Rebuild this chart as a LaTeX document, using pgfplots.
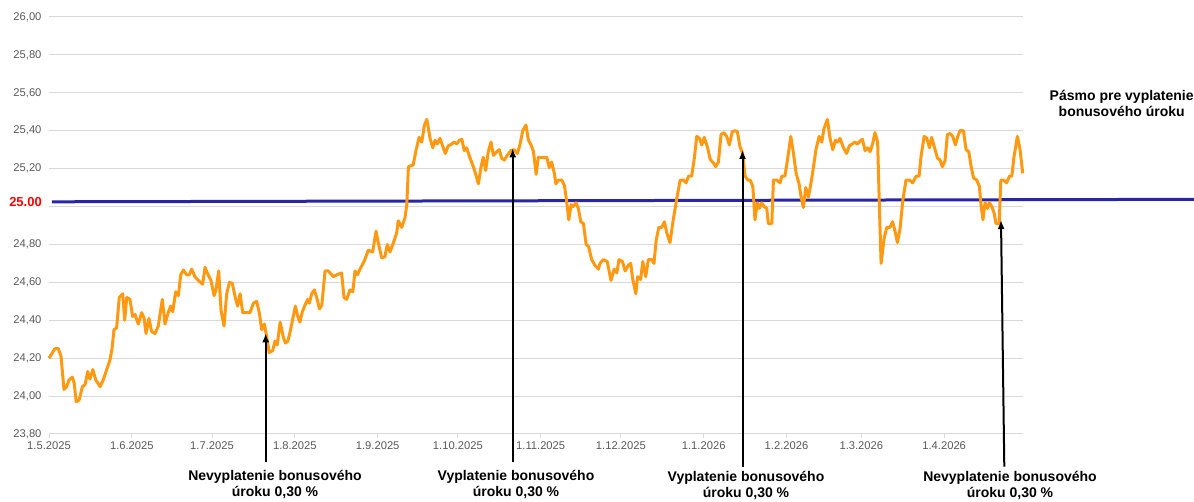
\documentclass[border=0pt]{standalone}
\usepackage{pgfplots}
\pgfplotsset{compat=1.18}
\usepackage{fontspec}
\setmainfont{Liberation Sans}
\usetikzlibrary{arrows.meta}
\definecolor{lineorange}{RGB}{255,153,17}
\definecolor{lineblue}{RGB}{38,38,166}
\definecolor{gridgray}{RGB}{217,217,217}
\definecolor{labelgray}{RGB}{89,89,89}
\begin{document}
\begin{tikzpicture}[x=1pt,y=1pt]
\path[use as bounding box] (0,0) rectangle (1194,502);
\begin{axis}[
  at={(49pt,68pt)}, anchor=south west,
  scale only axis, width=974pt, height=417pt,
  xmin=0, xmax=364.5, ymin=23.8, ymax=26,
  ytick={23.8,24.0,24.2,24.4,24.6,24.8,25.0,25.2,25.4,25.6,25.8,26.0},
  yticklabels={{23,80},{24,00},{24,20},{24,40},{24,60},{24,80},{},{25,20},{25,40},{25,60},{25,80},{26,00}},
  xtick={0,31,61,92,123,153,184,214,245,276,304,335},
  xticklabels={1.5.2025,1.6.2025,1.7.2025,1.8.2025,1.9.2025,1.10.2025,1.11.2025,1.12.2025,1.1.2026,1.2.2026,1.3.2026,1.4.2026},
  ymajorgrids, grid style={gridgray, line width=1pt},
  axis line style={draw=none},
  ytick style={draw=none},
  xtick style={draw=gridgray, line width=1pt},
  tick align=outside, major tick length=4pt,
  xtick pos=bottom, ytick pos=left,
  tick label style={font=\fontsize{11.2}{13}\selectfont, text=labelgray},
  clip=false,
]
\addplot[lineblue, line width=3pt] coordinates {(1.1,25.025) (428.5,25.038)};
\addplot[lineorange, line width=3pt, line join=round] coordinates {
(0,24.20) (2.2,24.25) (3.5,24.25) (4.5,24.21) (5.6,24.035) (6.6,24.05) (7.5,24.085) (8.7,24.10) (9.4,24.07) (10.2,23.97)
(11.3,23.98) (12.5,24.05) (13.5,24.06) (14.5,24.13) (15.3,24.09) (16.4,24.14) (17.5,24.085) (19.1,24.05) (20.3,24.085) (21.6,24.14)
(22.8,24.19) (23.6,24.25) (24.3,24.35) (25.3,24.36) (26.3,24.52) (27.6,24.54) (28.3,24.40) (29.1,24.52) (30.3,24.51) (31.3,24.42)
(32.2,24.43) (33.4,24.38) (34.7,24.44) (35.6,24.41) (36.3,24.33) (37.4,24.41) (38.4,24.34) (39.7,24.33) (40.9,24.37) (42.4,24.51)
(43.4,24.38) (44.6,24.44) (45.5,24.475) (46.3,24.445) (47.4,24.55) (48.4,24.53) (49.3,24.64) (50.3,24.665) (51.5,24.64) (52.5,24.64)
(53.4,24.67) (54.6,24.63) (55.9,24.61) (57.5,24.59) (58.4,24.68) (59.2,24.65) (60.6,24.61) (61.8,24.53) (62.5,24.56) (63.5,24.66)
(64.4,24.45) (65.5,24.37) (66.5,24.54) (67.5,24.60) (68.6,24.595) (69.7,24.52) (70.6,24.475) (71.5,24.54) (72.5,24.44) (74.0,24.44)
(75.2,24.44) (76.5,24.49) (77.7,24.50) (78.7,24.44) (79.6,24.35) (80.6,24.38) (81.5,24.31) (82.4,24.23) (83.7,24.24) (84.6,24.29)
(85.4,24.27) (86.5,24.39) (87.7,24.31) (88.5,24.28) (89.4,24.29) (90.4,24.35) (91.1,24.40) (92.2,24.475) (93.1,24.42) (93.9,24.39)
(94.8,24.445) (95.8,24.48) (96.8,24.51) (97.4,24.49) (98.3,24.54) (99.3,24.56) (100.2,24.52) (101.2,24.46) (102.1,24.48) (103.3,24.66)
(104.5,24.66) (106.4,24.63) (107.7,24.64) (109.5,24.65) (110.4,24.52) (111.4,24.51) (112.6,24.56) (113.7,24.55) (114.5,24.66) (115.4,24.64)
(116.4,24.67) (117.9,24.71) (119.5,24.77) (121.1,24.76) (122.4,24.87) (123.2,24.81) (124.5,24.73) (125.7,24.735) (126.6,24.80) (127.6,24.76)
(128.9,24.81) (130.1,24.86) (130.7,24.925) (132.0,24.89) (133.2,24.94) (133.9,25.01) (134.5,25.21) (136.3,25.22) (137.4,25.30) (138.5,25.365)
(139.5,25.34) (140.5,25.43) (141.4,25.46) (142.6,25.36) (143.6,25.31) (144.5,25.35) (145.3,25.33) (146.3,25.36) (147.3,25.32) (148.3,25.28)
(149.4,25.32) (150.7,25.33) (151.6,25.34) (152.6,25.33) (153.6,25.35) (154.5,25.355) (155.4,25.295) (156.3,25.31) (157.6,25.255) (158.8,25.21)
(159.7,25.17) (160.7,25.12) (161.7,25.21) (162.5,25.26) (163.4,25.19) (164.4,25.29) (165.4,25.34) (166.3,25.27) (167.6,25.29) (168.5,25.30)
(169.4,25.255) (170.4,25.245) (171.5,25.27) (172.8,25.295) (174.0,25.30) (175.3,25.28) (176.3,25.33) (177.3,25.40) (178.5,25.43) (179.4,25.35)
(180.4,25.325) (181.3,25.29) (182.3,25.17) (183.1,25.26) (184.4,25.26) (186.3,25.26) (187.2,25.205) (188.1,25.235) (189.1,25.175) (189.7,25.12)
(190.6,25.14) (191.9,25.14) (192.9,25.11) (193.7,25.03) (194.5,24.93) (195.4,25.01) (196.2,25.00) (197.2,25.02) (198.1,24.99) (199.0,24.92)
(200.0,24.91) (201.0,24.80) (201.9,24.79) (203.1,24.72) (204.3,24.69) (205.6,24.67) (206.2,24.70) (207.4,24.72) (208.9,24.71) (210.3,24.61)
(211.5,24.67) (212.5,24.65) (213.3,24.72) (214.6,24.71) (215.6,24.66) (216.8,24.69) (217.7,24.70) (218.4,24.62) (219.6,24.54) (220.3,24.63)
(221.4,24.615) (222.2,24.71) (223.3,24.63) (224.3,24.72) (225.6,24.72) (226.4,24.70) (227.2,24.82) (228.2,24.89) (229.3,24.89) (230.3,24.92)
(231.2,24.86) (232.4,24.81) (233.6,24.93) (234.9,25.04) (236.2,25.14) (237.4,25.14) (238.4,25.125) (239.3,25.16) (240.5,25.16) (241.5,25.255)
(242.4,25.37) (243.4,25.36) (244.3,25.325) (245.2,25.365) (246.4,25.315) (247.4,25.25) (248.6,25.23) (249.5,25.21) (250.5,25.235) (251.5,25.38)
(252.6,25.39) (253.6,25.37) (254.6,25.325) (255.7,25.395) (256.7,25.40) (257.6,25.395) (258.6,25.315) (259.6,25.28) (260.5,25.16) (261.5,25.14)
(262.4,25.14) (263.4,25.105) (264.2,24.93) (265.1,25.02) (265.8,24.99) (266.7,25.02) (267.6,25.00) (268.6,24.99) (269.2,24.91) (270.5,24.91)
(271.1,25.14) (272.3,25.14) (273.6,25.125) (274.2,25.16) (275.4,25.16) (276.5,25.26) (277.6,25.37) (278.6,25.28) (279.6,25.175) (280.7,25.12)
(281.4,25.055) (282.3,24.995) (283.2,25.10) (284.2,25.05) (285.1,25.12) (286.0,25.20) (287.0,25.30) (288.2,25.37) (289.2,25.34) (290.0,25.41)
(291.3,25.46) (292.3,25.36) (293.3,25.30) (294.3,25.35) (295.2,25.34) (296.0,25.36) (297.3,25.31) (298.5,25.28) (299.5,25.32) (300.6,25.33)
(301.6,25.34) (302.5,25.33) (303.5,25.345) (304.4,25.355) (305.4,25.295) (306.4,25.31) (307.3,25.29) (308.3,25.335) (309.1,25.39) (310.1,25.34)
(310.7,25.025) (311.4,24.70) (312.5,24.83) (313.5,24.89) (314.7,24.89) (315.7,24.92) (316.6,24.87) (317.5,24.81) (318.5,24.885) (319.5,25.03)
(320.7,25.14) (322.0,25.14) (323.2,25.125) (324.5,25.16) (325.6,25.16) (326.3,25.26) (327.5,25.37) (328.5,25.36) (329.5,25.31) (330.3,25.365)
(331.6,25.30) (332.5,25.255) (333.5,25.245) (334.3,25.21) (335.3,25.24) (336.2,25.38) (337.2,25.385) (338.2,25.37) (339.2,25.325) (340.1,25.37)
(340.9,25.40) (342.2,25.40) (343.2,25.30) (344.2,25.29) (345.1,25.21) (346.0,25.15) (347.2,25.14) (348.2,25.105) (348.7,25.02) (349.5,24.93)
(350.3,25.02) (351.2,24.99) (351.9,25.02) (352.8,25.00) (353.7,24.965) (354.4,24.91) (355.6,24.91) (356.2,25.14) (357.2,25.14) (358.4,25.125)
(359.4,25.16) (360.3,25.16) (361.1,25.26) (362.4,25.37) (363.4,25.30) (364.4,25.175)
};
\end{axis}
% red reference label
\node[anchor=east, inner sep=0pt, text=red, font=\bfseries\fontsize{13}{15}\selectfont] at (42,300.3) {25.00};
% arrows
\draw[line width=2pt, -{Latex[length=9pt,width=7pt]}] (265.7,40) -- (265.7,168.7);
\draw[line width=2pt, -{Latex[length=9pt,width=7pt]}] (512.7,40) -- (512.7,353.7);
\draw[line width=2pt, -{Latex[length=9pt,width=7pt]}] (742.5,35.3) -- (742.5,352);
\draw[line width=2pt, -{Latex[length=9pt,width=7pt]}] (1004.3,35.3) -- (1001,282);
% annotation texts
\tikzset{ann/.style={align=center, inner sep=0pt, font=\bfseries\fontsize{14}{16}\selectfont}}
\node[ann] at (275,18) {Nevyplatenie bonusového\\úroku 0,30 \%};
\node[ann] at (516,18) {Vyplatenie bonusového\\úroku 0,30 \%};
\node[ann] at (746,16.5) {Vyplatenie bonusového\\úroku 0,30 \%};
\node[ann] at (1010,16.5) {Nevyplatenie bonusového\\úroku 0,30 \%};
\node[ann] at (1121.7,399) {Pásmo pre vyplatenie\\bonusového úroku};
\end{tikzpicture}
\end{document}
